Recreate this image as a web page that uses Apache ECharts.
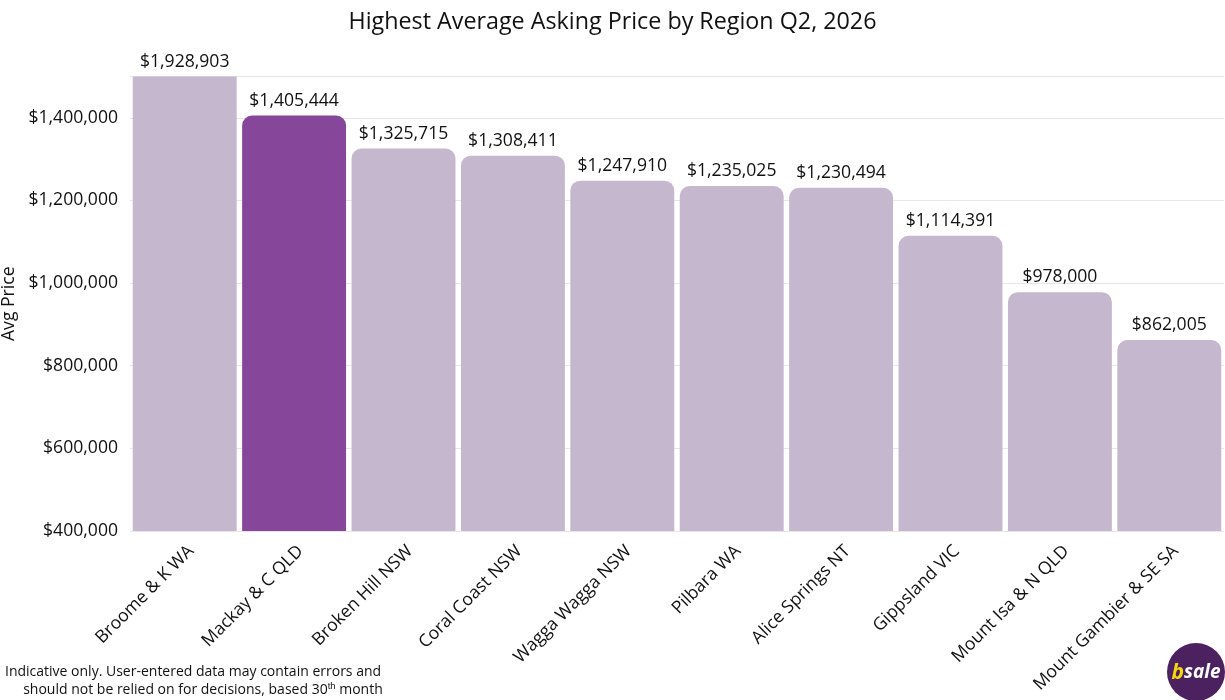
<!DOCTYPE html>
<html>
<head>
<meta charset="utf-8">
<script src="https://cdn.jsdelivr.net/npm/echarts@6/dist/echarts.min.js"></script>
<style>
html,body{margin:0;padding:0;background:#fff;}
#chart{width:1225px;height:700px;}
</style>
</head>
<body>
<div id="chart"></div>
<script>
const categories = ['Broome & K WA','Mackay & C QLD','Broken Hill NSW','Coral Coast NSW','Wagga Wagga NSW','Pilbara WA','Alice Springs NT','Gippsland VIC','Mount Isa & N QLD','Mount Gambier & SE SA'];
const values = [1928903,1405444,1325715,1308411,1247910,1235025,1230494,1114391,978000,862005];
const highlightIndex = 1;
const yTicks = [400000,600000,800000,1000000,1200000,1400000];
const yMax = 1500000;

const FONT = '"Open Sans", sans-serif';
const fmt = v => '$' + Math.round(v).toLocaleString('en-US');

const chart = echarts.init(document.getElementById('chart'), null, {renderer:'canvas'});
chart.setOption({
  animation:false,
  textStyle:{fontFamily:FONT},
  title:{
    text:'Highest Average Asking Price by Region Q2, 2026',
    left:'center', top:6,
    textStyle:{fontFamily:FONT,fontSize:23.3,fontWeight:'normal',color:'#111'}
  },
  grid:{left:130,right:1,top:76.5,bottom:169,containLabel:false,outerBoundsMode:'none'},
  xAxis:{
    type:'category', data:categories,
    axisLine:{show:false}, axisTick:{show:false},
    axisLabel:{rotate:45,fontSize:17.6,color:'#111',fontFamily:FONT,margin:11,interval:0,verticalAlign:'top'}
  },
  yAxis:{
    type:'value', min:yTicks[0], max:yMax, interval:200000,
    name:'Avg Price', nameLocation:'middle', nameGap:105, nameRotate:90,
    nameTextStyle:{fontFamily:FONT,fontSize:17.6,color:'#111'},
    axisLine:{show:false}, axisTick:{show:false},
    axisLabel:{fontSize:17.6,color:'#111',fontFamily:FONT,margin:12,showMaxLabel:false,
      formatter:v=> yTicks.includes(v)? fmt(v):''},
    splitLine:{lineStyle:{color:'#e6e6e6',width:1}}
  },
  series:[{
    type:'bar', barCategoryGap:'5%',
    data: values.map((v,i)=>({value:v,itemStyle:{
      color:i===highlightIndex?'#86469a':'#c5b7cd',
      borderRadius: v>yMax?0:[10,10,0,0]}})),
    label:{show:true,position:'top',distance:6,fontSize:17.6,color:'#111',fontFamily:FONT,formatter:p=>fmt(p.value)}
  }],
  graphic:[
    {type:'text',left:5,top:663,style:{
      text:'Indicative only. User-entered data may contain errors and\n     should not be relied on for decisions, based 30{sup|th} month',
      font:'14px "Open Sans", sans-serif', fill:'#111', lineHeight:18,
      rich:{sup:{fontSize:9.5,verticalAlign:'top',padding:[0,0,6,0],fill:'#111'}}
    }},
    {type:'circle',shape:{cx:1196,cy:672,r:29},style:{fill:'#4b2160'}},
    {type:'text',x:1196,y:673,style:{
      text:'{b|b}{s|sale}',align:'center',verticalAlign:'middle',
      rich:{b:{fill:'#f5d90a',fontSize:21,fontWeight:'bold',fontStyle:'italic',fontFamily:FONT},
            s:{fill:'#fff',fontSize:19,fontWeight:'bold',fontStyle:'italic',fontFamily:FONT}}
    }}
  ]
});
</script>
</body>
</html>
